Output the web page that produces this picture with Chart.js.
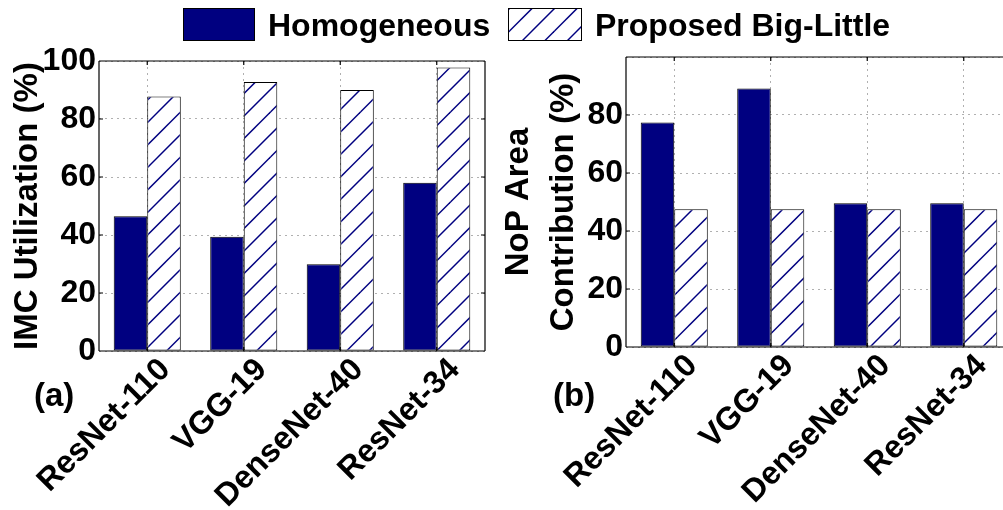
<!DOCTYPE html>
<html>
<head>
<meta charset="utf-8">
<script src="https://cdn.jsdelivr.net/npm/chart.js@4/dist/chart.umd.min.js"></script>
<style>
body { margin:0; width:1003px; height:510px; overflow:hidden; background:#fff; position:relative;
       font-family:'Liberation Sans', Arial, sans-serif; }
canvas { position:absolute; top:0; }
#left { left:0; width:497px; height:510px; }
#right { left:497px; width:530px; height:510px; }
.lg-box { position:absolute; top:8px; height:33px; box-sizing:border-box; border:1px solid #000; }
.lg-text { position:absolute; top:9px; line-height:33px; font-size:32px; font-weight:bold; color:#000; white-space:nowrap; }
</style>
</head>
<body>
<canvas id="left" width="497" height="510"></canvas>
<canvas id="right" width="530" height="510"></canvas>

<div class="lg-box" style="left:183px;width:72px;background:#000080;"></div>
<div class="lg-text" style="left:268px;">Homogeneous</div>
<canvas id="swatch" class="lg-box" style="left:508px;width:74px;padding:0;" width="72" height="31"></canvas>
<div class="lg-text" style="left:595px;">Proposed Big-Little</div>

<script>
var models = ['ResNet-110', 'VGG-19', 'DenseNet-40', 'ResNet-34'];
var imcHomogeneous = [46.5, 39.4, 29.9, 58.0];
var imcBigLittle = [87.8, 92.8, 90.0, 97.8];
var nopHomogeneous = [77.4, 89.1, 49.6, 49.6];
var nopBigLittle = [47.5, 47.5, 47.5, 47.5];

var NAVY = '#000080';
var FONT = "'Liberation Sans', Arial, sans-serif";

// hatch '/' lines, like matplotlib's hatch='/'
var makeHatch = function(ctx){
	var c = document.createElement('canvas');
	c.width = 45; c.height = 45;
	var g = c.getContext('2d');
	g.fillStyle = '#fff';
	g.fillRect(0, 0, 45, 45);
	g.strokeStyle = NAVY;
	g.lineWidth = 1.5;
	for(var k = 0; k <= 4; k++){
		var s = k * 22.5;
		g.beginPath();
		g.moveTo(s + 2, -2);
		g.lineTo(s - 47, 47);
		g.stroke();
	}
	return ctx.createPattern(c, 'repeat');
};

// legend swatch
(function(){
	var sw = document.getElementById('swatch');
	var g = sw.getContext('2d');
	g.fillStyle = makeHatch(g);
	g.fillRect(0, 0, sw.width, sw.height);
})();

// box around the axes, small inward ticks, panel label
var framePlugin = {
	id: 'frame',
	afterDatasetsDraw: function(chart, args, opts){
		var a = chart.chartArea, ctx = chart.ctx;
		var xs = chart.scales.x, ys = chart.scales.y;
		ctx.save();
		ctx.strokeStyle = '#000';
		ctx.lineWidth = 1.2;
		ctx.beginPath();
		ctx.moveTo(a.left, a.top); ctx.lineTo(a.right, a.top);
		ctx.moveTo(a.left, a.bottom); ctx.lineTo(a.right, a.bottom);
		ctx.moveTo(a.left, a.top); ctx.lineTo(a.left, a.bottom);
		ctx.moveTo(a.right, a.top); ctx.lineTo(a.right, a.bottom);
		var t = 4, i, p;
		for(i = 0; i < xs.ticks.length; i++){
			p = xs.getPixelForTick(i);
			ctx.moveTo(p, a.top); ctx.lineTo(p, a.top + t);
			ctx.moveTo(p, a.bottom); ctx.lineTo(p, a.bottom - t);
		}
		for(i = 0; i < ys.ticks.length; i++){
			p = ys.getPixelForTick(i);
			ctx.moveTo(a.left, p); ctx.lineTo(a.left + t, p);
			ctx.moveTo(a.right, p); ctx.lineTo(a.right - t, p);
		}
		ctx.stroke();
		ctx.fillStyle = '#000';
		ctx.font = 'bold 33px ' + FONT;
		ctx.textAlign = 'left';
		ctx.textBaseline = 'middle';
		ctx.fillText(opts.label, opts.x, opts.y);
		ctx.restore();
	}
};

var buildChart = function(id, homog, bigLittle, conf){
	var canvas = document.getElementById(id);
	var ctx = canvas.getContext('2d');
	return new Chart(ctx, {
		type: 'bar',
		data: {
			labels: models,
			datasets: [
				{ label: 'Homogeneous', data: homog, backgroundColor: NAVY,
				  borderColor: '#000', borderWidth: 1, borderSkipped: false },
				{ label: 'Proposed Big-Little', data: bigLittle, backgroundColor: makeHatch(ctx),
				  borderColor: '#000', borderWidth: 1, borderSkipped: false }
			]
		},
		options: {
			responsive: false,
			animation: false,
			layout: { padding: conf.padding },
			plugins: {
				legend: { display: false },
				tooltip: { enabled: false },
				frame: { label: conf.label, x: conf.labelX, y: conf.labelY }
			},
			datasets: { bar: { categoryPercentage: 0.695, barPercentage: 1 } },
			scales: {
				x: {
					grid: { offset: false, color: '#b0b0b0', lineWidth: 1, drawTicks: false },
					border: { display: false, dash: [2, 4] },
					ticks: {
						autoSkip: false, minRotation: 45, maxRotation: 45, padding: 0, labelOffset: 18,
						color: '#000', font: { family: FONT, size: 32, weight: 'bold' }
					},
					afterFit: function(s){ s.height = conf.xHeight; }
				},
				y: {
					min: 0, max: 100,
					grid: { color: '#b0b0b0', lineWidth: 1, drawTicks: false },
					border: { display: false, dash: [2, 4] },
					ticks: {
						stepSize: 20, padding: 3, color: '#000',
						font: { family: FONT, size: 32, weight: 'bold' },
						callback: function(v){ return (conf.hideTop && v === 100) ? '' : v; }
					},
					title: {
						display: true, text: conf.title, color: '#000',
						padding: { top: conf.titlePad, bottom: 0 },
						font: { family: FONT, size: 33, weight: 'bold', lineHeight: conf.titleLH }
					},
					afterFit: function(s){ s.width = conf.yWidth; }
				}
			}
		},
		plugins: [framePlugin]
	});
};

buildChart('left', imcHomogeneous, imcBigLittle, {
	padding: { top: 61, right: 12, left: 0, bottom: 0 },
	xHeight: 159, yWidth: 99,
	title: 'IMC Utilization (%)', titlePad: 8, titleLH: 1.2,
	label: '(a)', labelX: 34, labelY: 397, hideTop: false
});

buildChart('right', nopHomogeneous, nopBigLittle, {
	padding: { top: 57, right: 15, left: 0, bottom: 0 },
	xHeight: 163, yWidth: 129,
	title: ['NoP Area', 'Contribution (%)'], titlePad: 0, titleLH: 1.35,
	label: '(b)', labelX: 56, labelY: 397, hideTop: true
});
</script>
</body>
</html>
